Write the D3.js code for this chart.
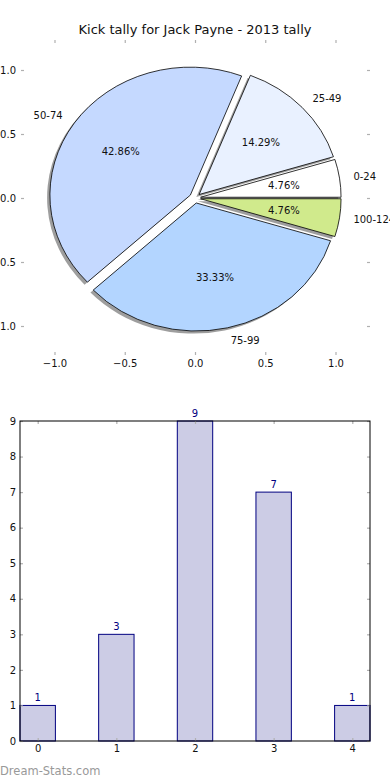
<!DOCTYPE html>
<html>
<head>
<meta charset="utf-8">
<script src="https://cdn.jsdelivr.net/npm/d3@7"></script>
<style>
  body { margin: 0; background: #fff; }
  svg { display: block; font-family: "DejaVu Sans", sans-serif; }
</style>
</head>
<body>
<div id="chart"></div>
<script>
// pie data
const pieLabels = ["0-24", "25-49", "50-74", "75-99", "100-124"];
const pieCounts = [1, 3, 9, 7, 1];
const pieTicks = [-1.0, -0.5, 0.0, 0.5, 1.0];

// bar data
const barCategories = [0, 1, 2, 3, 4];
const barValues = [1, 3, 9, 7, 1];
const barTicksY = [0, 1, 2, 3, 4, 5, 6, 7, 8, 9];

const pieColors = ["#ffffff", "#e9f1ff", "#c5d9ff", "#b3d5ff", "#d0ea8c"];
const explode = 0.04;

let width = 390;
let height = 780;

let svg = d3.select("#chart").append("svg").attr("width", width).attr("height", height);

// title
svg.append("text")
  .attr("x", 195).attr("y", 34)
  .attr("text-anchor", "middle")
  .style("font-size", "13px")
  .style("fill", "#111")
  .text("Kick tally for Jack Payne - 2013 tally");

// ---------- pie ----------
let px = d3.scaleLinear().domain([-1, 1]).range([54.5, 335.5]);
let py = d3.scaleLinear().domain([-1, 1]).range([326, 70]);
let sx = px(1) - px(0);
let sy = py(0) - py(1);

// d3 angles go clockwise from 12 o'clock, so start at 3 o'clock and go backwards
let pie = d3.pie().sort(null).startAngle(Math.PI / 2).endAngle(Math.PI / 2 - 2 * Math.PI);
let arcs = pie(pieCounts);
let total = d3.sum(pieCounts);
let arc = d3.arc().innerRadius(0).outerRadius(1);

let pieG = svg.append("g");

function midOf(d) {
  // back to matplotlib style angle (ccw from +x)
  let a = (d.startAngle + d.endAngle) / 2;
  return Math.PI / 2 - a;
}

// shadows first
arcs.forEach((d, i) => {
  let t = midOf(d);
  let ox = px(explode * Math.cos(t) - 0.02);
  let oy = py(explode * Math.sin(t) - 0.02);
  pieG.append("path")
    .attr("transform", `translate(${ox},${oy}) scale(${sx},${sy})`)
    .attr("d", arc(d))
    .style("fill", "#000")
    .style("fill-opacity", 0.38)
    .style("stroke", "none");
});

arcs.forEach((d, i) => {
  let t = midOf(d);
  let ox = px(explode * Math.cos(t));
  let oy = py(explode * Math.sin(t));
  pieG.append("path")
    .attr("transform", `translate(${ox},${oy}) scale(${sx},${sy})`)
    .attr("d", arc(d))
    .style("fill", pieColors[i])
    .style("stroke", "#000")
    .style("stroke-width", 0.8)
    .attr("vector-effect", "non-scaling-stroke");
});

arcs.forEach((d, i) => {
  let t = midOf(d);
  let cx = explode * Math.cos(t);
  let cy = explode * Math.sin(t);
  let lx = cx + 1.1 * Math.cos(t);
  let ly = cy + 1.1 * Math.sin(t);
  pieG.append("text")
    .attr("x", px(lx)).attr("y", py(ly))
    .attr("text-anchor", lx > 0 ? "start" : "end")
    .attr("dy", "0.35em")
    .style("font-size", "10px")
    .style("fill", "#111")
    .text(pieLabels[i]);
  pieG.append("text")
    .attr("x", px(cx + 0.6 * Math.cos(t))).attr("y", py(cy + 0.6 * Math.sin(t)))
    .attr("text-anchor", "middle")
    .attr("dy", "0.35em")
    .style("font-size", "10px")
    .style("fill", "#111")
    .text(d3.format(".2f")(d.data / total * 100) + "%");
});

// pie axes: ticks only, no frame
function styleAxis(g) {
  g.select(".domain").remove();
  g.selectAll(".tick line").attr("stroke", "#b0b0b0").attr("stroke-width", 1.2);
  g.selectAll(".tick text").style("font-size", "10px").style("fill", "#111").style("font-family", "DejaVu Sans, sans-serif");
}
let fmt1 = d3.format(".1f");
svg.append("g").attr("transform", "translate(0,355)")
  .call(d3.axisBottom(px).tickValues(pieTicks).tickFormat(fmt1).tickSizeInner(-3).tickSizeOuter(0).tickPadding(5))
  .call(styleAxis);
svg.append("g").attr("transform", "translate(0,40)")
  .call(d3.axisTop(px).tickValues(pieTicks).tickFormat("").tickSizeInner(-3).tickSizeOuter(0))
  .call(styleAxis);
svg.append("g").attr("transform", "translate(21,0)")
  .call(d3.axisLeft(py).tickValues(pieTicks).tickFormat(fmt1).tickSizeInner(-3).tickSizeOuter(0).tickPadding(5))
  .call(styleAxis);
svg.append("g").attr("transform", "translate(370,0)")
  .call(d3.axisRight(py).tickValues(pieTicks).tickFormat("").tickSizeInner(-3).tickSizeOuter(0))
  .call(styleAxis);

// ---------- bars ----------
let barW = 0.45;
let bx = d3.scaleLinear().domain([-barW / 2, 4 + barW / 2]).range([20, 370]);
let by = d3.scaleLinear().domain([0, 9]).range([741, 421]);

let barG = svg.append("g");
barG.selectAll("rect.bar")
  .data(barValues)
  .enter().append("rect")
  .attr("class", "bar")
  .attr("x", (d, i) => bx(barCategories[i] - barW / 2))
  .attr("width", bx(barW) - bx(0))
  .attr("y", d => by(d))
  .attr("height", d => by(0) - by(d))
  .style("fill", "#ccccE5")
  .style("stroke", "#000080")
  .style("stroke-width", 1);

barG.selectAll("text.val")
  .data(barValues)
  .enter().append("text")
  .attr("class", "val")
  .attr("x", (d, i) => bx(barCategories[i]))
  .attr("y", d => by(d) - 4)
  .attr("text-anchor", "middle")
  .style("font-size", "10px")
  .style("fill", "#000080")
  .text(d => d);

let fmt0 = d3.format("d");
svg.append("g").attr("transform", "translate(0,741)")
  .call(d3.axisBottom(bx).tickValues(barCategories).tickFormat(fmt0).tickSizeInner(-3).tickSizeOuter(0).tickPadding(4))
  .call(styleAxis);
svg.append("g").attr("transform", "translate(0,421)")
  .call(d3.axisTop(bx).tickValues(barCategories).tickFormat("").tickSizeInner(-3).tickSizeOuter(0))
  .call(styleAxis);
svg.append("g").attr("transform", "translate(20,0)")
  .call(d3.axisLeft(by).tickValues(barTicksY).tickFormat(fmt0).tickSizeInner(-3).tickSizeOuter(0).tickPadding(4))
  .call(styleAxis);
svg.append("g").attr("transform", "translate(370,0)")
  .call(d3.axisRight(by).tickValues(barTicksY).tickFormat("").tickSizeInner(-3).tickSizeOuter(0))
  .call(styleAxis);

// frame
svg.append("rect")
  .attr("x", bx.range()[0]).attr("y", by.range()[1])
  .attr("width", bx.range()[1] - bx.range()[0])
  .attr("height", by.range()[0] - by.range()[1])
  .style("fill", "none")
  .style("stroke", "#000")
  .style("stroke-width", 1);

// watermark
svg.append("text")
  .attr("x", 0).attr("y", 775)
  .style("font-size", "11.5px")
  .style("fill", "#999")
  .text("Dream-Stats.com");
</script>
</body>
</html>
